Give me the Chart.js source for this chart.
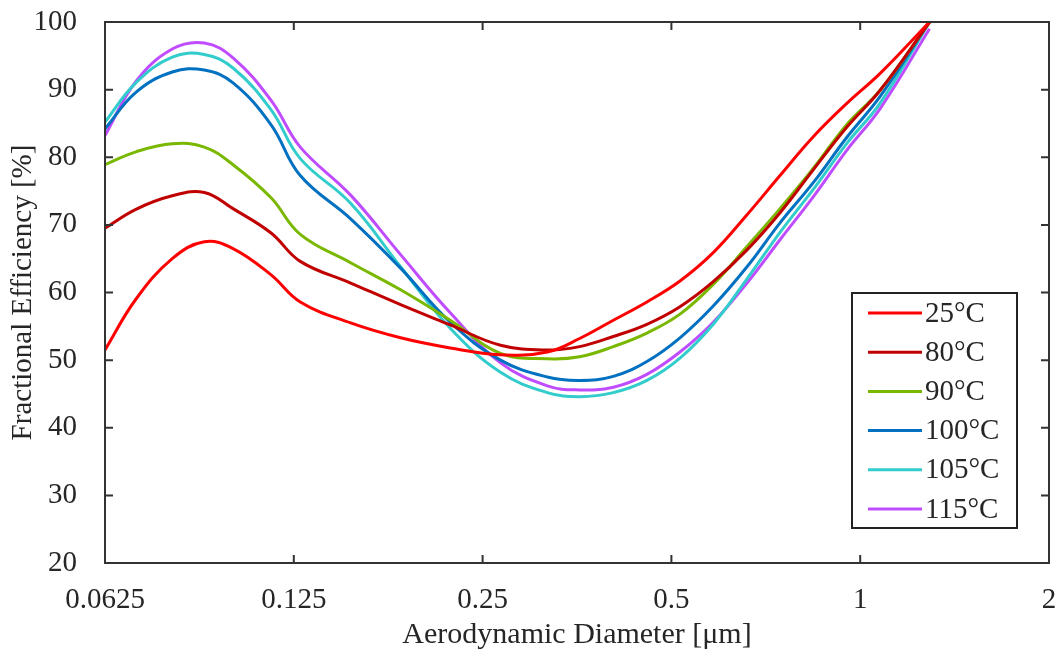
<!DOCTYPE html>
<html>
<head>
<meta charset="utf-8">
<script src="https://cdn.jsdelivr.net/npm/chart.js@4.4.1/dist/chart.umd.min.js"></script>
<style>
  html, body { margin: 0; padding: 0; background: #fff; }
  #wrap { width: 1062px; height: 655px; }
</style>
</head>
<body>
<div id="wrap"><canvas id="myChart" width="1062" height="655"></canvas></div>
<script>
// aerodynamic diameter [um]
const diameters = [0.0625, 0.07, 0.08, 0.09, 0.1, 0.115, 0.128, 0.154, 0.185, 0.222, 0.267, 0.317,
  0.357, 0.404, 0.457, 0.516, 0.583, 0.66, 0.745, 0.841, 0.953, 1.076, 1.29];

const eff25 = [51.5, 59.0, 65.0, 67.5, 66.5, 62.6, 58.6, 55.5, 53.3, 51.8, 50.8, 51.2,
  53.2, 55.9, 58.6, 61.7, 65.9, 71.5, 77.3, 83.0, 88.0, 92.4, 100];
const eff80 = [69.5, 72.3, 74.3, 74.8, 72.4, 68.8, 64.6, 61.4, 58.2, 55.2, 52.2, 51.5,
  52.0, 53.5, 55.3, 57.9, 61.6, 66.3, 71.8, 78.1, 84.5, 89.9, 100];
const eff90 = [78.9, 80.8, 82.0, 81.5, 78.9, 74.0, 68.6, 64.4, 60.4, 55.9, 51.0, 50.2,
  50.5, 52.0, 54.0, 56.8, 61.2, 66.8, 72.4, 78.3, 84.9, 89.9, 100];
const eff100 = [84.2, 89.6, 92.6, 92.9, 91.0, 84.8, 77.3, 70.9, 63.6, 55.6, 50.0, 47.5,
  47.0, 47.6, 49.8, 53.3, 58.0, 63.8, 70.3, 76.2, 83.0, 89.0, 100];
const eff105 = [85.2, 91.0, 94.8, 95.2, 93.2, 87.0, 79.8, 73.2, 63.8, 54.7, 48.2, 45.2,
  44.6, 45.2, 47.0, 50.3, 55.3, 62.0, 68.9, 75.2, 82.1, 88.0, 100];
const eff115 = [83.2, 91.2, 96.0, 96.9, 94.7, 88.4, 81.5, 74.4, 65.6, 57.0, 49.6, 46.2,
  45.6, 46.0, 47.9, 51.2, 55.6, 61.4, 67.8, 74.1, 81.1, 87.2, 99.0];

const seriesLabels = ["25°C", "80°C", "90°C", "100°C", "105°C", "115°C"];
const seriesColors = ["#FF0000", "#C00000", "#7AB800", "#0070C0", "#33CCCC", "#C04CFF"];
const seriesValues = [eff25, eff80, eff90, eff100, eff105, eff115];

const xTicks = [0.0625, 0.125, 0.25, 0.5, 1, 2];
const yTicks = [20, 30, 40, 50, 60, 70, 80, 90, 100];

const FONT = "'Liberation Serif', 'Times New Roman', serif";
const INK = "#262626";

// frame, inward ticks on all four sides, and the boxed legend
const framePlugin = {
  id: "frame",
  afterDatasetsDraw(chart) {
    const { ctx, chartArea: a, scales } = chart;
    ctx.save();
    ctx.strokeStyle = "#333";
    ctx.lineWidth = 2;
    ctx.strokeRect(a.left, a.top, a.right - a.left, a.bottom - a.top);
    const len = 8;
    ctx.beginPath();
    xTicks.forEach((v) => {
      const x = scales.x.getPixelForValue(v);
      ctx.moveTo(x, a.bottom); ctx.lineTo(x, a.bottom - len);
      ctx.moveTo(x, a.top); ctx.lineTo(x, a.top + len);
    });
    yTicks.forEach((v) => {
      const y = scales.y.getPixelForValue(v);
      ctx.moveTo(a.left, y); ctx.lineTo(a.left + len, y);
      ctx.moveTo(a.right, y); ctx.lineTo(a.right - len, y);
    });
    ctx.stroke();

    // legend box
    const bx = a.right - 197, by = 293, bw = 165, bh = 235;
    ctx.fillStyle = "#fff";
    ctx.fillRect(bx, by, bw, bh);
    ctx.strokeStyle = "#222";
    ctx.lineWidth = 2;
    ctx.strokeRect(bx, by, bw, bh);
    ctx.font = "29px " + FONT;
    ctx.textBaseline = "middle";
    ctx.textAlign = "left";
    chart.data.datasets.forEach((ds, i) => {
      const y = by + 20 + i * 39.2;
      ctx.strokeStyle = ds.borderColor;
      ctx.lineWidth = 3;
      ctx.beginPath();
      ctx.moveTo(bx + 16, y); ctx.lineTo(bx + 70, y);
      ctx.stroke();
      ctx.fillStyle = INK;
      ctx.fillText(ds.label, bx + 73, y + 1);
    });
    ctx.restore();
  },
};

var ctx = document.getElementById("myChart").getContext("2d");
var myChart = new Chart(ctx, {
  type: "line",
  data: {
    datasets: seriesLabels.map((label, i) => ({
      label: label,
      data: diameters.map((d, j) => ({ x: d, y: seriesValues[i][j] })),
      borderColor: seriesColors[i],
      backgroundColor: seriesColors[i],
      borderWidth: 3,
      pointRadius: 0,
      fill: false,
      tension: 0.4,
    })),
  },
  options: {
    responsive: false,
    animation: false,
    layout: { padding: { left: 0, right: 13, top: 22, bottom: 0 } },
    scales: {
      x: {
        type: "logarithmic",
        min: 0.0625,
        max: 2,
        afterBuildTicks: (scale) => {
          scale.ticks = xTicks.map((v) => ({ value: v }));
        },
        afterFit: (scale) => {
          scale.height = 92;
          scale.paddingLeft = 0;
          scale.paddingRight = 0;
        },
        grid: { display: false, drawTicks: false },
        border: { display: false },
        ticks: {
          color: INK,
          font: { family: FONT, size: 29 },
          padding: 20,
          autoSkip: false,
          maxRotation: 0,
          callback: (v) => String(v),
        },
        title: {
          display: true,
          text: "Aerodynamic Diameter [μm]",
          color: INK,
          font: { family: FONT, size: 30 },
          padding: { top: 0, bottom: 2 },
        },
      },
      y: {
        min: 20,
        max: 100,
        afterBuildTicks: (scale) => {
          scale.ticks = yTicks.map((v) => ({ value: v }));
        },
        afterFit: (scale) => {
          scale.width = 105;
          scale.paddingTop = 0;
          scale.paddingBottom = 0;
        },
        grid: { display: false, drawTicks: false },
        border: { display: false },
        ticks: {
          color: INK,
          font: { family: FONT, size: 29 },
          padding: 28,
        },
        title: {
          display: true,
          text: "Fractional Efficiency [%]",
          color: INK,
          font: { family: FONT, size: 29 },
          padding: { top: 6, bottom: 0 },
        },
      },
    },
    plugins: {
      legend: { display: false },
      tooltip: { enabled: false },
    },
  },
  plugins: [framePlugin],
});
</script>
</body>
</html>
